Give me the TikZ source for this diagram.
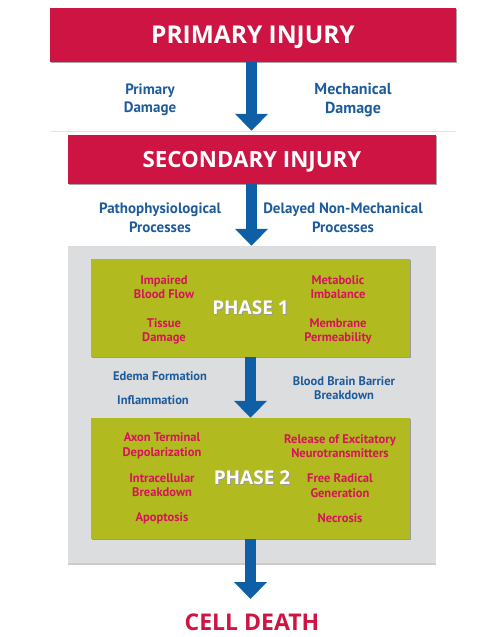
\documentclass[tikz,border=0pt]{standalone}
\usepackage{fontspec}
\setmainfont{PT Sans}
\newfontfamily\titlefont{Open Sans}
\usetikzlibrary{arrows.meta,shadows}
\definecolor{injuryred}{HTML}{CD1443}
\definecolor{causered}{HTML}{D6145A}
\definecolor{processblue}{HTML}{1D5B9B}
\definecolor{arrowblue}{HTML}{0F5FA6}
\definecolor{phaseolive}{HTML}{B1BA1F}
\definecolor{stagegrey}{HTML}{DCDDDF}
\tikzset{
  injury/.style={fill=injuryred, text=white, inner sep=0pt, text depth=0pt,
    drop shadow={shadow xshift=0.8pt, shadow yshift=-1.2pt, fill=black, opacity=0.35}},
  phasebox/.style={fill=phaseolive, inner sep=0pt, minimum width=319pt,
    drop shadow={shadow xshift=0.6pt, shadow yshift=-1.2pt, fill=black, opacity=0.3}},
  phasename/.style={text=white, text height=13.7pt, text depth=0pt, font=\titlefont\bfseries\fontsize{19}{24}\selectfont},
  phaseshade/.style={phasename, text=black!40},
  process/.style={text=processblue, align=center, font=\bfseries\fontsize{15}{18.5}\selectfont},
  cause/.style={text=causered, align=center, font=\bfseries\fontsize{12.5}{14.5}\selectfont},
  flow/.style={draw=arrowblue, line width=11pt, -{Triangle[width=32pt,length=17pt]}}
}
\begin{document}
\begin{tikzpicture}[x=1pt,y=-1pt]
  \useasboundingbox (0,0) rectangle (485,637);

  % injuries
  \node[injury, minimum width=406pt, minimum height=54pt, text height=17.6pt,
    font=\titlefont\bfseries\fontsize{24.5}{26}\selectfont] (primary) at (253,35) {PRIMARY INJURY};
  \draw[injuryred!15, line width=0.8pt] (50,131.5) -- (456,131.5);
  \node[injury, minimum width=368pt, minimum height=49pt, text height=16pt,
    font=\titlefont\bfseries\fontsize{22.3}{24}\selectfont] (secondary) at (252,159.5) {SECONDARY INJURY};

  \node[process] (primdamage) at (150,100) {Primary\\Damage};
  \node[process, font=\bfseries\fontsize{16}{18.5}\selectfont] (mechdamage) at (353,100) {Mechanical\\Damage};
  \node[process] (pathoproc) at (160,218) {Pathophysiological\\Processes};
  \node[process] (delayproc) at (343,218) {Delayed Non-Mechanical\\Processes};

  % phases
  \node[fill=stagegrey, inner sep=0pt, minimum width=368pt, minimum height=317pt,
    drop shadow={shadow xshift=0pt, shadow yshift=-1.5pt, fill=black, opacity=0.2}] (stages) at (252,404.5) {};
  \node[phasebox, minimum height=98pt] (phaseone) at (250.5,308) {};
  \node[phasebox, minimum height=121pt] (phasetwo) at (250.5,478.5) {};

  \node[phaseshade] (phaseoneshade) at (251.5,309) {PHASE 1};
  \node[phasename] (phaseonename) at (250.5,308) {PHASE 1};
  \node[cause] (bloodflow) at (164,287) {Impaired\\Blood Flow};
  \node[cause] (tissue) at (164,331.5) {Tissue\\Damage};
  \node[cause] (metabolic) at (338,287) {Metabolic\\Imbalance};
  \node[cause] (membrane) at (338,331.5) {Membrane\\Permeability};

  \node[process, font=\bfseries\fontsize{12.5}{14.5}\selectfont] (edema) at (160,376) {Edema Formation};
  \node[process, font=\bfseries\fontsize{12.5}{14.5}\selectfont] (inflam) at (153,400) {Inflammation};
  \node[process, font=\bfseries\fontsize{12.5}{14.5}\selectfont] (bbb) at (344,388) {Blood Brain Barrier\\Breakdown};

  \node[phaseshade] (phasetwoshade) at (253,479) {PHASE 2};
  \node[phasename] (phasetwoname) at (252,478) {PHASE 2};
  \node[cause] (axon) at (162,446) {Axon Terminal\\Depolarization};
  \node[cause] (intracell) at (162,485) {Intracellular\\Breakdown};
  \node[cause] (apoptosis) at (162,518) {Apoptosis};
  \node[cause] (excite) at (340,446) {Release of Excitatory\\Neurotransmitters};
  \node[cause] (radical) at (340,485.5) {Free Radical\\Generation};
  \node[cause] (necrosis) at (340,518) {Necrosis};

  \node[text=injuryred, text height=16.5pt, text depth=0pt, inner sep=0pt,
    font=\titlefont\bfseries\fontsize{23}{26}\selectfont] (death) at (252,622) {CELL DEATH};
  \coordinate (deathtip) at (250.5,599);

  % arrows
  \draw[flow, shorten >=4pt] (primary.south -| 251.5,0) -- (secondary.north -| 251.5,0);
  \draw[flow] (secondary.south -| 251.5,0) -- (stages.north -| 251.5,0);
  \draw[flow] (phaseone.south) -- (phasetwo.north);
  \draw[flow] (phasetwo.south) -- (deathtip);
\end{tikzpicture}
\end{document}
